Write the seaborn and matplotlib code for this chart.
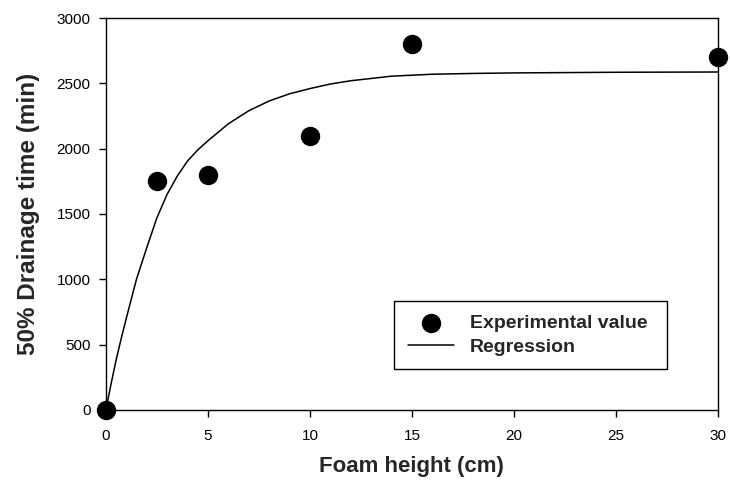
import matplotlib
matplotlib.use("Agg")
import matplotlib.pyplot as plt
import seaborn as sns
import pandas as pd

# Experimental data
foam_height = [0, 2.5, 5, 10, 15, 30]
drain_time = [0, 1750, 1800, 2100, 2800, 2700]

# Regression curve
reg_x = [0, 0.25, 0.5, 0.75, 1.0, 1.5, 2.0, 2.5, 3.0, 3.5, 4.0, 4.5, 5.0, 6.0, 7.0,
         8.0, 9.0, 10.0, 11.0, 12.0, 14.0, 16.0, 18.0, 20.0, 25.0, 30.0]
reg_y = [0, 195, 380, 545, 700, 1000, 1240, 1470, 1650, 1790, 1905, 1990, 2060, 2190, 2290,
         2365, 2420, 2460, 2495, 2520, 2555, 2570, 2576, 2580, 2585, 2587]

x_ticks = [0, 5, 10, 15, 20, 25, 30]
y_ticks = [0, 500, 1000, 1500, 2000, 2500, 3000]

sns.set_style("white")
plt.rcParams['font.family'] = ['Liberation Sans', 'DejaVu Sans']

fig = plt.figure(figsize=(7.3, 4.88), dpi=100)
ax = fig.add_axes([0.145, 0.160, 0.8385, 0.803])

df_pts = pd.DataFrame({"x": foam_height, "y": drain_time})
df_reg = pd.DataFrame({"x": reg_x, "y": reg_y})

sns.lineplot(data=df_reg, x="x", y="y", ax=ax, color="black", linewidth=1.1,
             label="Regression", zorder=2)
sns.scatterplot(data=df_pts, x="x", y="y", ax=ax, color="black", s=195,
                edgecolor="black", linewidth=0, label="Experimental value",
                zorder=3, clip_on=False)

ax.set_xlim(0, 30)
ax.set_ylim(0, 3000)
ax.set_xticks(x_ticks)
ax.set_yticks(y_ticks)
ax.tick_params(axis="both", which="both", direction="out", length=5, width=1,
               color="black", labelsize=11, pad=6, bottom=True, left=True,
               top=False, right=False, labelcolor="black")
ax.tick_params(axis="x", pad=9)
for sp in ax.spines.values():
    sp.set_color("black")
    sp.set_linewidth(1.0)
    sp.set_visible(True)

ax.set_xlabel("Foam height (cm)", fontsize=16, fontweight="bold", labelpad=9)
ax.set_ylabel("50% Drainage time (min)", fontsize=17.5, fontweight="bold", labelpad=12)

handles, labels = ax.get_legend_handles_labels()
order = [labels.index("Experimental value"), labels.index("Regression")]
leg = ax.legend([handles[i] for i in order], [labels[i] for i in order],
                loc="upper left", bbox_to_anchor=(0.471, 0.278, 0.446, 0.0),
                mode="expand", borderaxespad=0, frameon=True, fancybox=False,
                edgecolor="black", prop={"weight": "bold", "size": 14},
                handlelength=2.4, handletextpad=0.8, borderpad=0.7,
                labelspacing=0.3, markerscale=1.0)
leg.get_frame().set_linewidth(1.0)
leg.get_frame().set_alpha(1)

fig.savefig("out.png", dpi=100)
